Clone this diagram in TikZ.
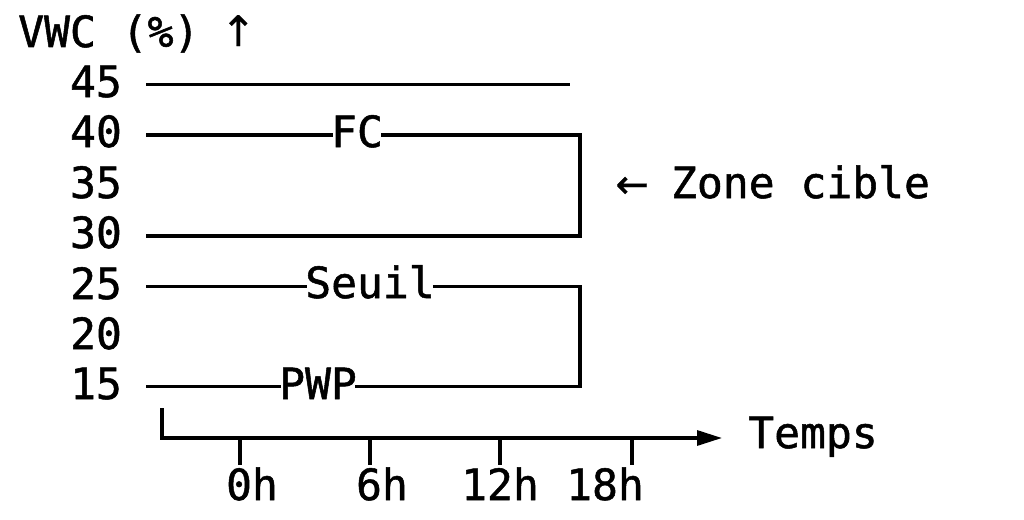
\documentclass[tikz,border=0pt]{standalone}
\usepackage{fontspec}
\setmonofont[FakeBold=1.2]{DejaVu Sans Mono}
\newfontfamily\arrfont[FakeBold=0.6]{DejaVu Sans}
\usetikzlibrary{arrows.meta}
\tikzset{
  txt/.style={font=\ttfamily\fontsize{43}{50}\selectfont, anchor=base, inner sep=0pt, text=black},
  lbl/.style={txt, inner xsep=-2pt},
  ln/.style={draw=black, line width=3.2pt},
  tick/.style={draw=black, line width=3.2pt},
}
\begin{document}
\begin{tikzpicture}[x=1pt,y=-1pt]
\useasboundingbox (0,0) rectangle (1024,519);
% axis title
\node[txt, anchor=base west] (ytitle) at (18,47) {VWC (\%) \makebox[26pt]{\raisebox{1pt}{\arrfont\fontsize{42}{50}\selectfont ↑}}};
% y labels
\node[txt] (y45) at (96,97) {45};
\node[txt] (y40) at (96,147) {40};
\node[txt] (y35) at (96,198) {35};
\node[txt] (y30) at (96,248) {30};
\node[txt] (y25) at (96,299) {25};
\node[txt] (y20) at (96,349) {20};
\node[txt] (y15) at (96,399) {15};
% level labels
\node[lbl] (fc) at (357,147) {FC};
\node[lbl] (seuil) at (370,298) {Seuil};
\node[lbl] (pwp) at (318,399) {PWP};
% coordinates
\coordinate (a45) at (146,84.5);
\coordinate (b45) at (570,84.5);
\coordinate (a40) at (146,135);
\coordinate (b40) at (580,135);
\coordinate (a30) at (146,236);
\coordinate (b30) at (580,236);
\coordinate (a25) at (146,286.5);
\coordinate (b25) at (580,286.5);
\coordinate (a15) at (146,386.5);
\coordinate (b15) at (580,386.5);
% lines
\draw[ln] (a45) -- (b45);
\draw[ln] (a40) -- (a40 -| fc.west);
\draw[ln, line join=miter] (a40 -| fc.east) -- (b40) -- (b30) -- (a30);
\draw[ln] (a25) -- (a25 -| seuil.west);
\draw[ln, line join=miter] (a25 -| seuil.east) -- (b25) -- (b15) -- (b15 -| pwp.east);
\draw[ln] (a15) -- (a15 -| pwp.west);
% zone label
\node[txt, anchor=base west] (zone) at (619,198) {\makebox[26pt]{\arrfont\fontsize{40}{50}\selectfont ←} Zone cible};
% time axis
\coordinate (ax0) at (162,408);
\coordinate (ax1) at (162,438);
\coordinate (ax2) at (722,438);
\draw[ln, line join=miter, -{Triangle[length=25pt,width=15pt]}] (ax0) -- (ax1) -- (ax2);
\node[txt] (temps) at (813,448) {Temps};
% ticks
\foreach \n/\x in {t0/240,t6/370,t12/500,t18/632}{
  \coordinate (\n a) at (\x,438);
  \coordinate (\n b) at (\x,465);
  \draw[tick] (\n a) -- (\n b);
}
\node[txt] (l0) at (252,500) {0h};
\node[txt] (l6) at (382,500) {6h};
\node[txt] (l12) at (500,500) {12h};
\node[txt] (l18) at (605,500) {18h};
\end{tikzpicture}
\end{document}
